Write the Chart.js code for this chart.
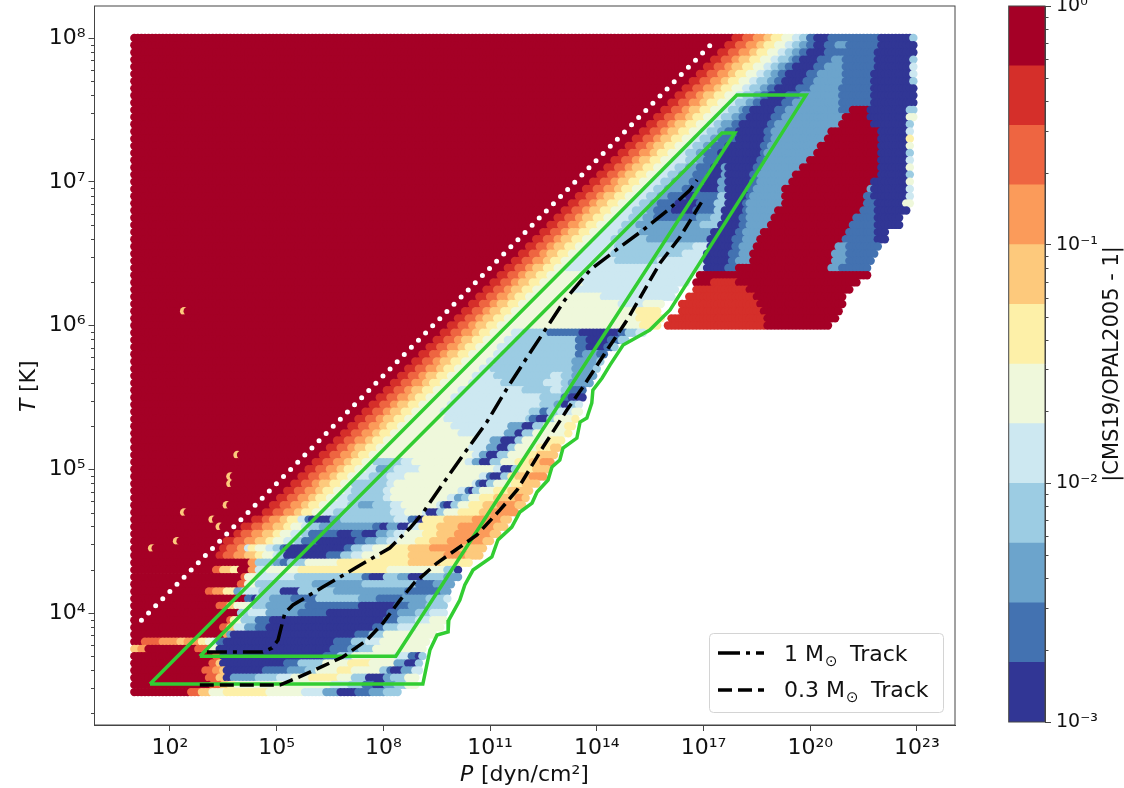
<!DOCTYPE html>
<html>
<head>
<meta charset="utf-8">
<script src="https://cdn.jsdelivr.net/npm/chart.js@4"></script>
<style>
  body { margin: 0; background: #fff; }
  canvas { position: absolute; top: 0; }
</style>
</head>
<body>
<canvas id="main" width="1124" height="788" style="left:0"></canvas>
<canvas id="bar" width="124" height="788" style="left:1000px"></canvas>
<script>
// colour levels of the bar, bottom to top
const levelColors = ['#313695','#4372b1','#6ca4cc','#9ccce3','#cde8f1','#eff8db','#fdf0a8','#fdc97c','#fb9b5a','#ee6541','#d52f2a','#a50026'];
const barEdges = [0.001,0.00178,0.00316,0.00562,0.01,0.0178,0.0316,0.0562,0.1,0.178,0.316,0.562,1];

const xTickExp = [2,5,8,11,14,17,20,23];
const xTickLabels = ['10²','10⁵','10⁸','10¹¹','10¹⁴','10¹⁷','10²⁰','10²³'];
const yTickExp = [4,5,6,7,8];
const yTickLabels = ['10⁴','10⁵','10⁶','10⁷','10⁸'];
const barTickValues = [0.001,0.01,0.1,1];
const barTickLabels = ['10⁻³','10⁻²','10⁻¹','10⁰'];
const minorDigits = [2,3,4,5,6,7,8,9];

// one row per log T: [logT, log P where the dark red stops (null = spelled out), level, end log P, level, end log P ...]
const fanLevels = [10,9,8,7,6,5];
const fanBandWidth = 0.28;
const rowBands = [
[8.00,17.75, 4,19.6,3,19.8,1,20.05,0,20.45,1,21.8,0,22.7,3,23.05],
[7.95,17.55, 4,19.4,3,19.6,2,19.8,1,20.0,0,20.3,1,20.6,2,20.9,1,21.8,0,22.8,3,23.05],
[7.90,17.35, 4,19.25,3,19.45,2,19.6,1,19.8,0,20.3,1,21.7,0,23.05],
[7.85,17.15, 4,19.05,3,19.3,2,19.45,1,19.65,0,20.15,1,20.5,2,20.85,1,21.7,0,22.75,3,23.05],
[7.80,16.95, 4,18.85,3,19.05,2,19.25,1,19.43,0,20.0,1,20.3,2,20.88,1,21.7,0,22.7,4,23.05],
[7.75,16.75, 4,18.65,3,18.85,2,19.05,1,19.25,0,19.85,1,20.15,2,20.85,1,21.65,0,22.7,4,23.05],
[7.70,16.55, 4,18.45,3,18.7,2,18.9,1,19.1,0,19.7,1,20.05,2,20.85,1,21.65,0,22.7,3,23.05],
[7.65,16.35, 4,18.25,3,18.5,2,18.7,1,18.9,0,19.5,1,19.9,2,20.75,1,21.63,0,22.85,3,23.05],
[7.60,16.15, 4,18.05,3,18.3,2,18.55,1,18.7,0,19.2,1,19.6,2,20.7,1,21.63,0,23.05],
[7.55,15.95, 4,17.85,3,18.1,2,18.3,1,18.5,0,19.1,1,19.4,2,20.7,1,21.63,0,23.05],
[7.50,15.75, 4,17.65,3,17.9,2,18.0,1,18.2,0,18.9,1,19.25,2,20.7,1,21.05,11,21.55,0,22.65,3,22.9,5,23.05],
[7.45,15.55, 4,17.45,3,17.7,2,17.9,1,18.1,0,18.85,1,19.1,2,20.85,11,21.55,0,22.6,5,23.05],
[7.40,15.35, 4,17.25,3,17.45,2,17.7,1,17.93,0,18.75,1,18.95,2,20.7,11,21.6,0,22.6,3,23.0],
[7.35,15.15, 4,17.05,3,17.3,2,17.5,1,17.88,0,18.67,1,18.86,2,20.45,11,21.85,0,22.6,4,23.0],
[7.30,14.95, 4,16.85,3,17.1,2,17.3,1,17.8,0,18.6,1,18.8,2,20.3,11,21.85,0,22.6,6,23.0],
[7.25,14.75, 4,16.65,3,16.9,2,17.1,1,17.5,0,18.55,1,18.75,2,20.15,11,21.86,0,22.6,5,23.0],
[7.20,14.55, 4,16.45,3,16.7,2,16.9,1,17.3,0,18.5,1,18.68,2,20.0,11,21.86,0,22.6,3,23.0],
[7.15,14.35, 4,16.4,3,16.7,2,16.95,1,17.3,0,17.5,2,17.58,0,18.42,1,18.62,2,19.85,11,21.86,0,22.6,4,23.0],
[7.10,14.15, 4,16.1,3,16.4,2,16.7,1,17.1,0,17.4,2,17.55,0,18.35,1,18.55,2,19.6,11,21.86,0,22.6,5,23.0],
[7.05,13.95, 4,15.95,3,16.2,2,16.6,1,17.0,0,17.4,2,17.55,0,18.25,1,18.45,2,19.4,11,21.8,0,22.6,3,23.0],
[7.00,13.75, 4,15.75,3,16.0,2,16.5,1,16.9,0,17.35,2,17.5,0,18.2,1,18.4,2,19.3,11,21.6,0,22.65,5,23.0],
[6.95,13.55, 4,15.55,3,15.85,2,16.3,1,16.85,0,17.3,2,17.5,0,18.15,1,18.3,2,19.15,11,21.5,2,21.6,0,22.65,4,23.0],
[6.90,13.35, 4,15.35,3,15.65,2,15.95,1,16.4,0,16.6,1,17.3,3,17.5,0,18.1,1,18.25,2,19.1,11,21.4,1,21.6,0,22.6,4,23.0],
[6.85,13.15, 4,15.15,3,15.45,2,15.65,1,16.15,0,16.7,1,17.25,3,17.5,0,18.05,1,18.15,2,19.1,11,21.4,1,21.75,0,22.57,5,22.95],
[6.80,12.95, 4,14.95,3,15.3,2,15.5,1,16.0,0,16.6,1,17.2,3,17.45,0,18.0,1,18.15,2,18.9,11,21.3,1,21.7,0,22.65,3,22.9],
[6.75,12.75, 4,14.8,3,15.2,2,15.5,1,16.7,2,17.15,3,17.4,0,17.95,1,18.1,2,18.82,11,21.1,1,21.7,0,22.7],
[6.70,12.55, 4,14.65,3,15.05,2,16.85,3,17.3,0,17.9,1,18.1,2,18.7,11,21.0,1,21.7,0,22.65],
[6.65,12.35, 4,14.5,3,15.1,2,17.1,0,17.8,1,18.05,2,18.55,11,20.95,1,21.7,0,22.3],
[6.60,12.15, 4,14.3,3,15.3,2,17.05,0,17.75,1,18.0,2,18.45,11,20.8,1,21.75,0,22.25],
[6.55,11.95, 4,14.46,3,16.6,4,17.0,0,17.7,1,17.95,2,18.35,11,20.65,2,20.9,1,21.85,0,22.1],
[6.50,11.75, 4,14.3,3,16.3,4,16.95,0,17.65,1,17.9,2,18.25,11,20.55,2,20.9,1,21.9,0,22.0],
[6.45,11.55, 4,14.4,3,15.6,4,16.95,0,17.6,1,17.85,2,18.2,11,20.5,2,20.9,1,21.85],
[6.40,11.35, 4,16.9,0,17.55,1,17.85,11,20.4,2,20.75,1,21.75],
[6.35,11.15, 5,13.4,4,16.55,-1,16.75,11,21.72],
[6.30,10.95, 5,13.5,4,16.45,-1,16.65,11,17.1,10,17.83,11,21.48],
[6.25,10.75, 5,13.2,4,16.15,-1,16.6,10,18.1,11,21.3],
[6.20,10.55, 5,14.0,4,16.0,-1,16.45,10,18.3,11,21.1],
[6.15,10.35, 5,14.5,4,15.2,5,15.75,-1,16.25,10,18.4,11,21.06],
[6.10,10.15, 5,15.0,6,15.6,-1,16.2,10,18.5,11,20.93],
[6.05,9.95, 5,15.0,6,15.7,-1,15.9,10,18.6,11,20.83],
[6.00,9.75, 5,15.1,6,15.6,-1,15.8,10,18.68,11,20.69],
[5.95,9.55, 5,11.55,4,11.8,3,12.55,1,13.4,0,14.5,1,14.75,3,15.0,4,15.45],
[5.90,9.35, 5,11.35,4,11.6,3,13.35,1,13.6,0,14.2,1,14.5,3,14.8,4,14.95],
[5.85,9.15, 5,11.15,4,11.4,3,13.3,1,13.6,0,14.1,1,14.3,3,14.65],
[5.80,8.95, 5,11.0,4,11.2,3,13.3,1,13.55,2,13.9,1,14.2,3,14.4],
[5.75,8.75, 5,10.8,4,11.0,3,13.25,2,13.9,3,14.3],
[5.70,8.55, 5,10.6,4,10.95,3,13.25,2,13.85,3,14.15],
[5.65,8.35, 5,10.4,4,11.05,3,12.65,4,12.9,3,13.2,2,13.8,3,14.05],
[5.60,8.15, 5,10.3,4,11.25,3,12.45,4,12.9,3,13.1,2,13.7,3,13.95],
[5.55,7.95, 5,10.0,4,11.85,3,12.6,4,12.95,3,13.1,1,13.6,3,13.8],
[5.50,7.75, 5,9.8,4,12.3,3,12.9,1,13.1,0,13.7,3,13.8],
[5.45,7.55, 5,9.7,4,12.3,3,12.7,2,12.95,0,13.15,3,13.35,4,13.7],
[5.40,7.35, 5,9.5,4,12.0,3,12.3,1,12.55,3,12.8,4,13.2,5,13.65],
[5.35,7.15, 5,9.65,4,11.9,3,12.0,1,12.25,0,12.55,3,12.75,5,13.2,6,13.55],
[5.30,6.95, 5,9.8,4,11.45,2,11.8,0,12.1,3,12.4,5,13.0,6,13.45],
[5.25,6.75, 5,10.0,4,11.3,2,11.65,0,11.85,3,12.1,5,13.0,6,13.4],
[5.20,6.55, 5,10.4,4,10.95,2,11.25,0,11.6,3,11.8,5,12.5,6,13.0,7,13.2],
[5.15,6.35, 5,10.3,4,10.8,2,11.1,0,11.4,3,11.6,5,12.2,6,12.65,7,13.05],
[5.10,6.15, 3,7.4,4,7.7,5,10.4,4,10.6,2,10.85,0,11.15,3,11.4,5,11.9,6,12.2,7,12.7,8,12.95],
[5.05,5.95, 3,8.4,4,8.7,5,10.2,4,10.45,2,10.65,0,10.95,3,11.2,5,11.6,6,12.0,7,12.3,8,12.85],
[5.00,5.75, 4,7.7,2,8.0,3,8.2,4,8.9,5,11.0,4,11.2,0,11.5,3,11.7,6,12.1,7,12.75],
[4.95,5.55, 4,7.5,3,8.0,4,8.5,5,10.6,4,10.85,1,10.95,0,11.2,3,11.4,6,11.65,7,12.0,8,12.4,7,12.65],
[4.90,5.35, 3,8.0,4,8.2,5,10.4,4,10.55,1,10.65,0,10.8,3,11.0,5,11.5,6,11.8,7,12.5],
[4.85,5.15, 4,7.0,3,7.9,4,8.1,5,10.0,4,10.2,1,10.3,0,10.45,3,10.6,5,11.0,6,11.4,7,12.3],
[4.80,4.95, 4,6.9,3,7.9,4,8.1,5,9.7,4,9.9,2,10.1,3,10.3,5,10.6,6,11.0,7,11.6,8,11.8,7,12.2],
[4.75,4.75, 4,6.9,3,7.2,2,7.65,3,8.1,4,8.4,5,9.4,4,9.55,1,9.6,0,9.85,3,10.05,5,10.35,6,10.75,7,11.1,8,11.6,7,12.05],
[4.70,4.55, 4,6.5,3,8.1,4,8.5,5,9.0,4,9.15,0,9.45,3,9.65,5,10.0,6,10.6,7,10.9,8,11.6,7,11.85],
[4.65,null, 11,4.2,10,4.5,9,4.75,8,5.0,7,5.25,6,5.5,4,5.7,1,5.85,0,6.4,2,6.7,3,8.2,4,8.65,1,8.8,0,9.0,6,9.6,7,10.4,8,11.2,7,11.65],
[4.60,null, 11,3.95,10,4.25,9,4.55,8,4.8,7,5.1,6,5.35,5,5.6,4,5.85,3,6.1,2,7.6,1,7.8,0,8.05,2,8.35,0,8.65,4,8.9,6,9.4,7,10.0,8,11.0,7,11.55],
[4.55,null, 11,3.7,10,3.95,9,4.2,8,4.5,7,4.8,6,5.05,5,5.3,4,5.6,3,5.85,1,6.6,0,7.0,1,7.3,0,7.7,2,8.0,3,8.2,4,8.5,5,9.0,6,9.4,7,9.9,8,10.9,7,11.35],
[4.50,null, 11,3.45,10,3.75,9,4.05,8,4.35,7,4.6,6,4.85,5,5.1,4,5.4,3,5.65,1,6.0,0,7.1,1,7.4,2,7.7,3,8.0,4,8.3,5,8.8,6,9.2,7,9.7,8,10.7,7,11.15],
[4.45,null, 11,3.3,10,3.55,9,3.85,8,4.0,4,4.1,6,4.3,5,4.6,4,4.85,3,5.0,1,5.15,0,6.8,1,7.0,3,7.3,4,7.6,5,8.0,6,8.6,7,9.2,8,10.0,7,11.0],
[4.40,null, 11,3.2,10,3.45,9,3.75,8,4.0,7,4.3,6,4.5,5,4.8,4,4.9,3,5.1,0,6.3,1,6.7,3,7.0,4,7.3,5,7.8,6,8.6,7,9.6,8,10.2,7,10.9],
[4.35,null, 11,4.15,8,4.35,3,4.8,2,5.0,1,5.2,3,5.7,5,6.6,6,8.6,7,9.5,6,10.6],
[4.30,null, 11,3.1,9,3.3,7,3.6,6,3.85,11,4.1,8,4.3,4,4.6,5,5.5,6,8.0,5,9.6,3,9.95,0,10.3],
[4.25,null, 11,3.9,9,4.05,5,4.3,4,5.4,3,7.3,1,7.55,0,7.9,3,8.3,2,8.6,0,9.0,3,9.6,2,10.0,1,10.25],
[4.20,null, 11,3.85,9,4.0,5,4.3,3,5.9,2,7.3,3,8.8,1,9.3,2,10.1],
[4.15,null, 11,2.95,9,3.15,8,3.4,6,3.7,2,3.95,4,4.4,3,5.0,0,5.55,3,6.5,2,8.5,1,9.5,2,10.0],
[4.10,null, 11,4.0,1,4.2,0,4.35,3,4.7,2,5.3,1,6.0,3,7.2,2,7.7,1,8.4,2,9.1,3,9.6,4,10.0],
[4.05,null, 11,3.25,9,3.5,7,3.75,5,4.25,3,4.6,2,5.7,1,7.2,0,8.2,1,8.6,2,9.1,3,9.6,4,9.9],
[4.00,null, 11,3.85,3,4.1,4,4.6,2,5.5,1,6.3,0,8.0,1,8.35,2,8.8,3,9.2,4,9.9],
[3.95,null, 11,3.5,9,3.65,6,3.75,5,3.9,3,4.3,1,4.7,0,7.9,1,8.3,3,8.8,4,9.2,5,9.85],
[3.90,null, 11,3.35,9,3.55,7,3.75,4,4.0,2,4.3,1,4.6,0,7.6,1,7.9,3,8.3,4,8.8,5,9.8],
[3.85,null, 11,3.4,8,3.55,2,3.65,0,7.1,1,7.5,3,7.9,5,9.55],
[3.80,null, 11,1.1,9,1.6,8,2.1,7,2.3,8,2.7,6,2.95,5,3.1,4,3.2,1,3.4,0,6.5,1,7.0,3,7.4,4,7.8,5,9.4],
[3.75,null, 7,1.05,8,1.2,11,2.6,9,3.0,5,3.2,0,6.4,1,6.9,2,7.2,3,7.6,5,9.3],
[3.70,null, 11,3.15,9,3.35,0,6.2,1,6.6,3,7.0,5,8.2,4,8.6,1,8.8,0,8.95,3,9.25],
[3.65,null, 11,3.0,9,3.2,7,3.35,0,5.1,1,5.55,3,6.2,5,6.9,6,7.5,5,8.2,2,8.55,0,8.85,3,9.2],
[3.60,null, 11,2.8,9,3.1,8,3.3,7,3.4,0,4.5,1,5.2,2,5.7,3,6.0,5,6.6,6,7.0,5,7.8,3,8.0,1,8.1,0,8.4,2,8.7,4,9.15],
[3.55,null, 11,2.9,9,3.2,7,3.4,0,3.65,2,4.3,3,4.9,4,5.3,5,5.8,6,6.6,5,7.0,3,7.45,0,7.9,2,8.1,3,8.5,5,9.1],
[3.50,null, 11,3.05,9,3.3,7,3.5,6,3.7,5,6.4,4,6.9,3,7.3,1,7.6,0,7.9,2,8.2,3,8.5,5,9.05],
[3.45,null, 11,2.45,9,2.75,7,3.0,5,3.4,6,4.6,5,5.6,4,6.2,2,6.6,0,7.15,1,7.5,2,7.9,3,8.6]
];

// stray light points inside the dark red area
const speckLogT = [6.10,4.45,4.50,4.70,4.65,4.60,4.75,4.90,4.95,5.10];
const speckLogP = [2.4,1.5,2.2,2.4,3.2,3.4,3.6,3.7,3.7,3.9];

// dotted line
const dotLogP = [1.2,17.35];
const dotLogT = [3.95,7.99];

// tracks
const track1LogP = [3.04,4.61,4.87,5.04,5.23,5.46,6.30,7.26,8.18,8.75,9.11,9.59,10.24,10.91,11.5,12.12,12.77,13.10,13.81,14.65,15.30,16.0,16.62,16.82];
const track1LogT = [3.729,3.729,3.757,3.812,4.0,4.056,4.181,4.32,4.452,4.591,4.696,4.87,5.099,5.329,5.572,5.809,6.052,6.177,6.386,6.546,6.664,6.803,6.943,7.012];
const track03LogP = [2.84,5.09,5.57,6.86,7.54,7.99,8.47,8.89,9.03,9.51,10.15,10.63,11.28,11.76,12.49,13.16,13.61,14.29,14.85,15.21,15.78,16.34,16.98];
const track03LogT = [3.499,3.499,3.548,3.694,3.812,3.93,4.09,4.216,4.243,4.348,4.459,4.543,4.717,4.856,5.155,5.412,5.572,5.83,6.038,6.191,6.435,6.616,6.873];

// green outlines
const outerLogP = [1.44,17.94,19.88,16.06,15.49,14.74,14.37,14.15,13.89,13.86,13.72,13.53,13.44,13.05,12.96,12.74,12.63,12.32,12.18,11.84,11.61,11.22,11.05,10.52,10.29,10.15,9.84,9.82,9.51,9.31,9.11,1.44];
const outerLogT = [3.506,7.603,7.603,6.108,5.969,5.864,5.725,5.635,5.551,5.461,5.357,5.329,5.217,5.148,5.064,5.016,4.925,4.842,4.765,4.703,4.598,4.508,4.39,4.299,4.195,4.09,3.951,3.868,3.847,3.743,3.506,3.506];
const innerLogP = [2.84,17.52,17.88,8.35,2.84];
const innerLogT = [3.70,7.339,7.339,3.70,3.70];

const pts = (ps, ts) => ps.map((p, i) => ({ x: 10 ** p, y: 10 ** ts[i] }));

function levelAt(row, p) {
  const q = p - 0.11;
  const edge = row[1];
  if (edge !== null) {
    if (q <= edge) return 11;
    const k = Math.floor((q - edge) / fanBandWidth);
    if (k < fanLevels.length) return fanLevels[k];
  }
  for (let k = 2; k < row.length; k += 2) {
    if (q <= row[k + 1]) return row[k];
  }
  return -1;
}

const heatPoints = [];
const heatColors = [];
rowBands.forEach(row => {
  const end = row[row.length - 1] - 0.11;
  for (let k = 0; 1 + k * 0.1 <= end; k++) {
    const p = 1 + k * 0.1;
    let lvl = levelAt(row, p);
    speckLogT.forEach((t, s) => {
      if (t === row[0] && Math.abs(speckLogP[s] - p) < 0.05) lvl = 7;
    });
    if (lvl < 0) continue;
    heatPoints.push({ x: 10 ** p, y: 10 ** row[0] });
    heatColors.push(levelColors[lvl]);
  }
});

Chart.defaults.font.family = '"DejaVu Sans"';
Chart.defaults.color = '#111';
const axisColor = '#444';

function minorValues(lo, hi) {
  const out = [];
  for (let e = lo; e < hi; e++) minorDigits.forEach(d => out.push(d * 10 ** e));
  return out;
}

function drawMinor(chart, id, values, dir, len) {
  const s = chart.scales[id], ctx = chart.ctx;
  const x0 = dir < 0 ? chart.chartArea.left : chart.chartArea.right;
  ctx.save();
  ctx.strokeStyle = axisColor;
  ctx.lineWidth = 1;
  values.forEach(v => {
    const y = Math.round(s.getPixelForValue(v)) + 0.5;
    if (y < chart.chartArea.top || y > chart.chartArea.bottom) return;
    ctx.beginPath();
    ctx.moveTo(x0, y);
    ctx.lineTo(x0 + dir * len, y);
    ctx.stroke();
  });
  ctx.restore();
}

const mainDecor = {
  id: 'mainDecor',
  afterDraw(chart) {
    const ctx = chart.ctx, a = chart.chartArea;
    ctx.save();
    ctx.strokeStyle = axisColor;
    ctx.lineWidth = 1;
    ctx.strokeRect(a.left, a.top, a.right - a.left, a.bottom - a.top);
    ctx.restore();
    drawMinor(chart, 'y', minorValues(3, 8), -1, 3.5);

    // axis titles
    ctx.save();
    ctx.fillStyle = '#111';
    ctx.textBaseline = 'alphabetic';
    ctx.font = 'italic 22px "DejaVu Sans"';
    ctx.fillText('P', 460, 781);
    ctx.font = '22px "DejaVu Sans"';
    ctx.fillText(' [dyn/cm²]', 474, 781);
    ctx.translate(35, 412);
    ctx.rotate(-Math.PI / 2);
    ctx.font = 'italic 22px "DejaVu Sans"';
    ctx.fillText('T', 0, 0);
    ctx.font = '22px "DejaVu Sans"';
    ctx.fillText(' [K]', 13, 0);
    ctx.restore();

    // legend
    ctx.save();
    ctx.beginPath();
    ctx.roundRect(709.5, 633.5, 234, 79, 4);
    ctx.fillStyle = 'rgba(255,255,255,0.85)';
    ctx.fill();
    ctx.strokeStyle = '#d4d4d4';
    ctx.lineWidth = 1;
    ctx.stroke();
    ctx.strokeStyle = '#000';
    ctx.lineWidth = 3.5;
    ctx.setLineDash([22, 6, 4, 6]);
    ctx.beginPath(); ctx.moveTo(718, 653); ctx.lineTo(764, 653); ctx.stroke();
    ctx.setLineDash([14, 6]);
    ctx.beginPath(); ctx.moveTo(718, 690); ctx.lineTo(764, 690); ctx.stroke();
    ctx.setLineDash([]);
    ctx.fillStyle = '#111';
    ctx.font = '22px "DejaVu Sans"';
    ctx.fillText('1 M', 784, 661);
    ctx.fillText('Track', 850, 661);
    ctx.fillText('0.3 M', 784, 697);
    ctx.fillText('Track', 871, 697);
    ctx.font = '15px "DejaVu Sans"';
    ctx.fillText('⊙', 825, 666);
    ctx.fillText('⊙', 846, 702);
    ctx.restore();
  }
};

new Chart(document.getElementById('main').getContext('2d'), {
  type: 'scatter',
  data: {
    datasets: [
      { label: '1 M Track', data: pts(track1LogP, track1LogT), showLine: true, pointRadius: 0, borderColor: '#000', borderWidth: 3.5, borderDash: [20, 6, 4, 6], order: 1 },
      { label: '0.3 M Track', data: pts(track03LogP, track03LogT), showLine: true, pointRadius: 0, borderColor: '#000', borderWidth: 3.5, borderDash: [14, 6], order: 2 },
      { label: 'outer', data: pts(outerLogP, outerLogT), showLine: true, pointRadius: 0, borderColor: '#32cd32', borderWidth: 3.5, order: 3 },
      { label: 'inner', data: pts(innerLogP, innerLogT), showLine: true, pointRadius: 0, borderColor: '#32cd32', borderWidth: 3.5, order: 4 },
      { label: 'dots', data: pts(dotLogP, dotLogT), showLine: true, pointRadius: 0, borderColor: '#fff', borderWidth: 5, borderDash: [0, 10.1], borderCapStyle: 'round', order: 5 },
      { label: 'cells', data: heatPoints, pointRadius: 4.2, pointBorderWidth: 0, pointBackgroundColor: heatColors, order: 6 }
    ]
  },
  options: {
    responsive: false,
    animation: false,
    events: [],
    layout: { padding: { top: 6, right: 169, left: 0, bottom: 0 } },
    plugins: { legend: { display: false }, tooltip: { enabled: false } },
    scales: {
      x: {
        type: 'logarithmic',
        bounds: 'data',
        min: 10 ** -0.12,
        max: 10 ** 24.07,
        grid: { drawOnChartArea: false, tickLength: 6, color: axisColor },
        border: { color: axisColor },
        afterBuildTicks(s) { s.ticks = xTickExp.map(e => ({ value: 10 ** e })); },
        afterFit(s) { s.height = 63; s.paddingLeft = 0; s.paddingRight = 0; },
        ticks: {
          autoSkip: false, maxRotation: 0, padding: 4, font: { size: 22 },
          callback: (v, i) => xTickLabels[i]
        }
      },
      y: {
        type: 'logarithmic',
        bounds: 'data',
        min: 10 ** 3.221,
        max: 10 ** 8.223,
        grid: { drawOnChartArea: false, tickLength: 6, color: axisColor },
        border: { color: axisColor },
        afterBuildTicks(s) { s.ticks = yTickExp.map(e => ({ value: 10 ** e })); },
        afterFit(s) { s.width = 94.5; s.paddingTop = 0; s.paddingBottom = 0; },
        ticks: {
          autoSkip: false, padding: 3, font: { size: 22 },
          callback: (v, i) => yTickLabels[i]
        }
      }
    }
  },
  plugins: [mainDecor]
});

const barDecor = {
  id: 'barDecor',
  afterDraw(chart) {
    const ctx = chart.ctx, a = chart.chartArea;
    ctx.save();
    ctx.strokeStyle = axisColor;
    ctx.lineWidth = 1;
    ctx.strokeRect(a.left, a.top, a.right - a.left, a.bottom - a.top);
    ctx.restore();
    drawMinor(chart, 'y', minorValues(-3, 0), 1, 3.5);
    ctx.save();
    ctx.translate(118, 364);
    ctx.rotate(-Math.PI / 2);
    ctx.fillStyle = '#111';
    ctx.font = '21px "DejaVu Sans"';
    ctx.textAlign = 'center';
    ctx.fillText('|CMS19/OPAL2005 - 1|', 0, 0);
    ctx.restore();
  }
};

new Chart(document.getElementById('bar').getContext('2d'), {
  type: 'bar',
  data: {
    labels: [''],
    datasets: levelColors.map((c, i) => ({
      data: [[barEdges[i], barEdges[i + 1]]],
      backgroundColor: c,
      barPercentage: 1,
      categoryPercentage: 1,
      grouped: false
    }))
  },
  options: {
    responsive: false,
    animation: false,
    events: [],
    layout: { padding: { top: 6, left: 8.7, bottom: 66, right: 0 } },
    plugins: { legend: { display: false }, tooltip: { enabled: false } },
    scales: {
      x: { display: false },
      y: {
        type: 'logarithmic',
        position: 'right',
        bounds: 'data',
        min: 0.001,
        max: 1,
        grid: { drawOnChartArea: false, tickLength: 6, color: axisColor },
        border: { color: axisColor },
        afterBuildTicks(s) { s.ticks = barTickValues.map(v => ({ value: v })); },
        afterFit(s) { s.width = 79; s.paddingTop = 0; s.paddingBottom = 0; },
        ticks: {
          autoSkip: false, padding: 5, font: { size: 19 },
          callback: (v, i) => barTickLabels[i]
        }
      }
    }
  },
  plugins: [barDecor]
});
</script>
</body>
</html>
